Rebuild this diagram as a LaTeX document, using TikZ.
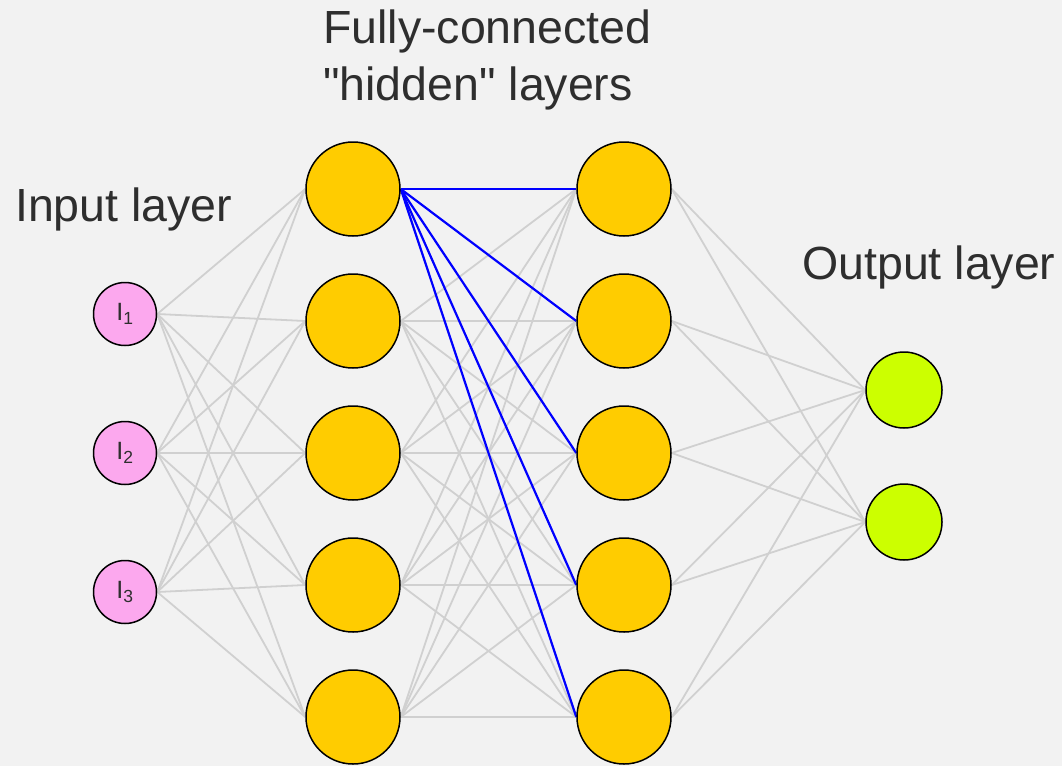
\documentclass[tikz,border=0pt]{standalone}
\usepackage{fontspec}
\setmainfont{Liberation Sans}
\usetikzlibrary{positioning,backgrounds}

\definecolor{bgcol}{HTML}{F2F2F2}
\definecolor{inputcol}{HTML}{FCA8EE}
\definecolor{hiddencol}{HTML}{FFCC00}
\definecolor{outputcol}{HTML}{CCFF00}
\definecolor{edgecol}{HTML}{D0D0D0}
\definecolor{txtcol}{HTML}{2E2E2E}

\begin{document}
\begin{tikzpicture}[x=1pt,y=-1pt,on grid,
    neuron/.style={circle,draw=black,line width=1.5pt,inner sep=0pt},
    inp/.style={neuron,fill=inputcol,minimum size=63pt,text=txtcol,font=\fontsize{25}{27}\selectfont},
    hid/.style={neuron,fill=hiddencol,minimum size=94pt},
    outp/.style={neuron,fill=outputcol,minimum size=76pt},
    conn/.style={draw=edgecol,line width=1.8pt},
    hot/.style={draw=blue,line width=2.2pt},
    title/.style={font=\fontsize{46.5}{57}\selectfont,text=txtcol,inner sep=0pt}]
    \useasboundingbox (0,0) rectangle (1062,766);

    % input layer
    \node[inp] (i1) at (125,314) {I\textsubscript{1}};
    \node[inp] (i2) [below=139pt of i1] {I\textsubscript{2}};
    \node[inp] (i3) [below=139pt of i2] {I\textsubscript{3}};

    % hidden layers
    \node[hid] (ha1) at (353,189) {};
    \node[hid] (ha2) [below=132pt of ha1] {};
    \node[hid] (ha3) [below=132pt of ha2] {};
    \node[hid] (ha4) [below=132pt of ha3] {};
    \node[hid] (ha5) [below=132pt of ha4] {};

    \node[hid] (hb1) [right=271pt of ha1] {};
    \node[hid] (hb2) [below=132pt of hb1] {};
    \node[hid] (hb3) [below=132pt of hb2] {};
    \node[hid] (hb4) [below=132pt of hb3] {};
    \node[hid] (hb5) [below=132pt of hb4] {};

    % output layer
    \node[outp] (o1) at (904,390) {};
    \node[outp] (o2) [below=132pt of o1] {};

    % captions
    \node[title,anchor=base west] (inlbl) at (15,221) {Input layer};
    \node[title,anchor=north west,align=left] (hidlbl) at (323,10) {Fully-connected\\\textquotedbl hidden\textquotedbl{} layers};
    \node[title,anchor=base west] (outlbl) at (802,279) {Output layer};

    \begin{scope}[on background layer]
        \fill[bgcol] (0,0) rectangle (1062,766);
        \foreach \i in {1,2,3}
            \foreach \j in {1,...,5}
                \draw[conn] (i\i.east) -- (ha\j.west);
        \foreach \i in {2,...,5}
            \foreach \j in {1,...,5}
                \draw[conn] (ha\i.east) -- (hb\j.west);
        \foreach \j in {1,...,5}
            \draw[hot] (ha1.east) -- (hb\j.west);
        \foreach \i in {1,...,5}
            \foreach \j in {1,2}
                \draw[conn] (hb\i.east) -- (o\j.west);
    \end{scope}
\end{tikzpicture}
\end{document}
